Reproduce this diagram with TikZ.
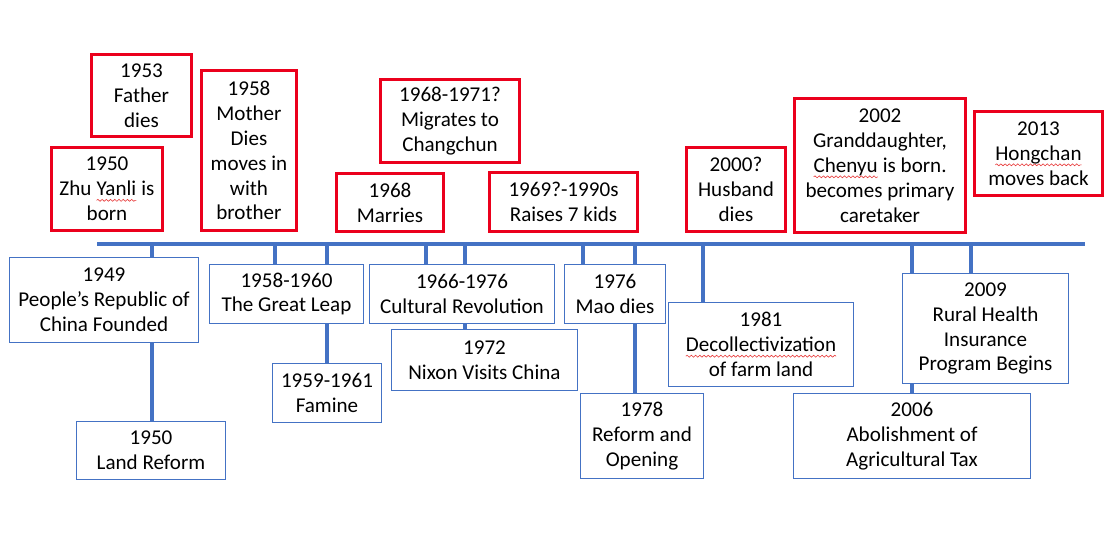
\documentclass[tikz,border=0pt]{standalone}
\usepackage{fontspec}
\setmainfont{Carlito}
\usetikzlibrary{backgrounds,decorations.pathmorphing}
\definecolor{linecol}{RGB}{68,114,196}
\definecolor{lifecol}{RGB}{235,0,28}
\definecolor{spellcol}{RGB}{232,60,60}

% red wavy underline of a word
\newcommand{\squig}[1]{\tikz[baseline=(sq.base)]{%
  \node[draw=none,fill=none,inner sep=0pt,outer sep=0pt,minimum size=0pt,anchor=base] (sq) at (0pt,0pt) {#1};
  \draw[spellcol,line width=0.35pt,decorate,decoration={snake,amplitude=0.55pt,segment length=2.4pt}]
    ([yshift=-2.6pt]sq.base west) -- ([yshift=-2.6pt]sq.base east);}}

\begin{document}
\begin{tikzpicture}[x=0.02cm,y=-0.02cm,
  sz/.style 2 args={minimum width=#1*0.02cm,minimum height=#2*0.02cm},
  box/.style={draw,fill=white,align=center,inner sep=0pt,font=\fontsize{12}{14.2}\selectfont},
  lifebox/.style={box,draw=lifecol,line width=2pt},
  histbox/.style={box,draw=linecol,line width=0.8pt},
  tick/.style={linecol,line width=2.3pt},
  axis/.style={linecol,line width=2.8pt}]
\useasboundingbox (0,0) rectangle (1106,544);

% her life, above the line
\node[lifebox,sz={100}{82}] (father) at (141.5,95.5) {1953\\Father\\dies};
\node[lifebox,sz={111}{83}] (born) at (107,189) {1950\\Zhu \squig{Yanli} is\\born};
\node[lifebox,sz={95}{160}] (mother) at (249,150.5) {1958\\Mother\\Dies\\moves in\\with\\brother};
\node[lifebox,sz={139}{83}] (migrate) at (450,121) {1968-1971?\\Migrates to\\Changchun};
\node[lifebox,sz={107}{58}] (marry) at (390,202.5) {1968\\Marries};
\node[lifebox,sz={148}{59}] (kids) at (563.5,202) {1969?-1990s\\Raises 7 kids};
\node[lifebox,sz={99}{84}] (husband) at (736,189.5) {2000?\\Husband\\dies};
\node[lifebox,sz={171}{134}] (grand) at (880,165.5) {2002\\Granddaughter,\\\squig{Chenyu} is born.\\becomes primary\\caretaker};
\node[lifebox,sz={128}{84}] (back) at (1038.5,153.5) {2013\\\squig{Hongchan}\\moves back};

% history, below the line
\node[histbox,sz={189}{85}] (prc) at (104,300) {1949\\People’s Republic of\\China Founded};
\node[histbox,sz={149}{58}] (land) at (151,450.5) {1950\\Land Reform};
\node[histbox,sz={154}{59}] (leap) at (286.5,294) {1958-1960\\The Great Leap};
\node[histbox,sz={109}{59}] (famine) at (327,393) {1959-1961\\Famine};
\node[histbox,sz={185}{59}] (cultural) at (462,294) {1966-1976\\Cultural Revolution};
\node[histbox,sz={186}{61}] (nixon) at (484.5,360) {1972\\Nixon Visits China};
\node[histbox,sz={101}{59}] (mao) at (615,294) {1976\\Mao dies};
\node[histbox,sz={123}{85}] (reform) at (642,436) {1978\\Reform and\\Opening};
\node[histbox,sz={185}{84}] (decol) at (761,344.5) {1981\\\squig{Decollectivization}\\of farm land};
\node[histbox,sz={166}{110}] (health) at (985.5,328.5) {2009\\Rural Health\\Insurance\\Program Begins};
\node[histbox,sz={237}{85}] (tax) at (912,436) {2006\\Abolishment of\\Agricultural Tax};

% timeline and ticks
\coordinate (axis-l) at (97,244);
\coordinate (axis-r) at (1085,244);
\foreach \x/\n in {152/land,275/leap,327/famine,426/cultural,465/nixon,583/mao,635/reform,703/decol,912/tax,971/health}
  \coordinate (tk-\n) at (\x,244);
\begin{scope}[on background layer]
\foreach \n in {land,leap,famine,cultural,nixon,mao,reform,decol,tax,health}
  \draw[tick] (tk-\n) -- (tk-\n |- \n.north);
\draw[axis] (axis-l) -- (axis-r);
\end{scope}
\end{tikzpicture}
\end{document}
